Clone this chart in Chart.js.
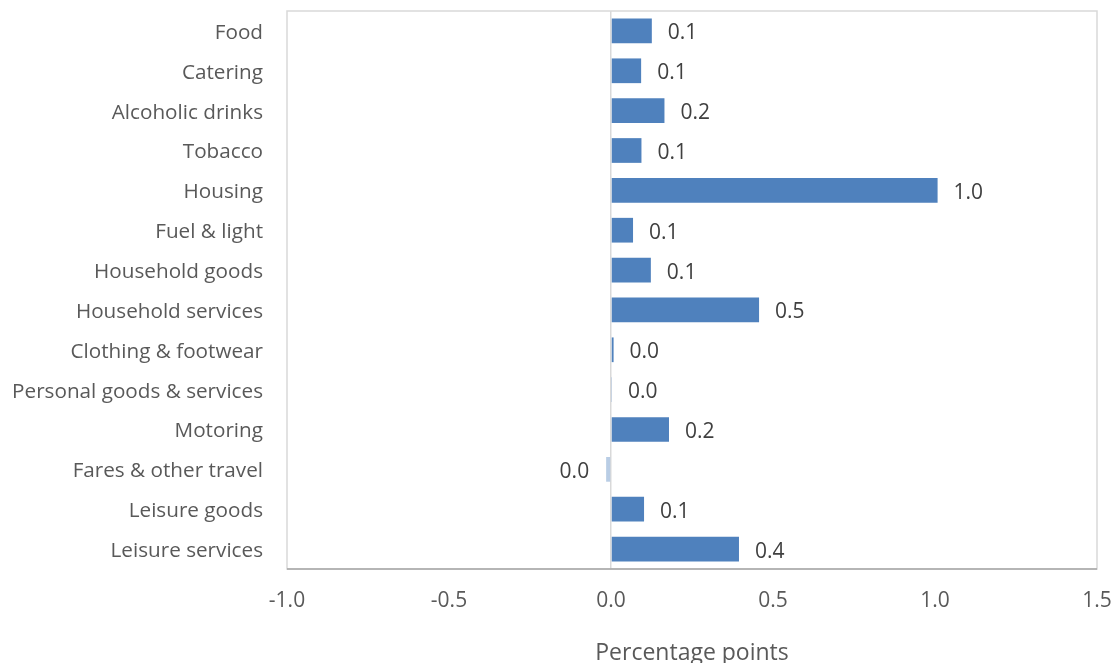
<!DOCTYPE html>
<html>
<head>
<meta charset="utf-8">
<script src="https://cdn.jsdelivr.net/npm/chart.js@4/dist/chart.umd.min.js"></script>
<style>
  html, body { margin: 0; padding: 0; background: #fff; }
  #wrap { width: 1112px; height: 663px; position: relative; }
</style>
</head>
<body>
<div id="wrap"><canvas id="chart"></canvas></div>
<script>
// contributions to the change in the index, percentage points
var categories = [
  "Food", "Catering", "Alcoholic drinks", "Tobacco", "Housing",
  "Fuel & light", "Household goods", "Household services",
  "Clothing & footwear", "Personal goods & services", "Motoring",
  "Fares & other travel", "Leisure goods", "Leisure services"
]
var contributions = [
  0.126, 0.093, 0.165, 0.094, 1.008,
  0.068, 0.123, 0.457,
  0.008, 0.003, 0.179,
  -0.015, 0.102, 0.395
]
var xMin = -1.0
var xMax = 1.5
var xStep = 0.5

var FONT = "'Open Sans', 'DejaVu Sans', sans-serif"

function fmt(v) {
  // round to one decimal, and drop the sign of a negative zero
  return (Math.round(v * 10) / 10 + 0).toFixed(1)
}

// box round the plot area, darker line along the value axis
const plotFrame = {
  id: 'plotFrame',
  beforeDatasetsDraw(chart) {
    const {ctx, chartArea: a} = chart
    ctx.save()
    ctx.strokeStyle = '#D9D9D9'
    ctx.lineWidth = 1.5
    ctx.strokeRect(a.left, a.top, a.right - a.left, a.bottom - a.top)
    ctx.strokeStyle = '#A6A6A6'
    ctx.beginPath()
    ctx.moveTo(a.left, a.bottom)
    ctx.lineTo(a.right, a.bottom)
    ctx.stroke()
    ctx.restore()
  }
}

// value labels just past the end of each bar
const barLabels = {
  id: 'barLabels',
  afterDatasetsDraw(chart) {
    const ctx = chart.ctx
    const meta = chart.getDatasetMeta(0)
    const values = chart.data.datasets[0].data
    ctx.save()
    ctx.font = '21px ' + FONT
    ctx.fillStyle = '#404040'
    ctx.textBaseline = 'middle'
    meta.data.forEach((bar, i) => {
      const v = values[i]
      if (v < 0) {
        ctx.textAlign = 'right'
        ctx.fillText(fmt(v), Math.min(bar.x, bar.base) - 17, bar.y + 2.5)
      } else {
        ctx.textAlign = 'left'
        ctx.fillText(fmt(v), Math.max(bar.x, bar.base) + 16, bar.y + 2.5)
      }
    })
    ctx.restore()
  }
}

new Chart(document.getElementById('chart'), {
  type: 'bar',
  data: {
    labels: categories,
    datasets: [{
      data: contributions,
      backgroundColor: contributions.map(v => v < 0 ? '#B9CDE5' : '#4F81BD'),
      borderWidth: 0,
      barPercentage: 0.62,
      categoryPercentage: 1.0
    }]
  },
  options: {
    indexAxis: 'y',
    responsive: true,
    maintainAspectRatio: false,
    animation: false,
    layout: {
      padding: {top: 11, right: 15, bottom: 0, left: 0}
    },
    plugins: {
      legend: {display: false},
      tooltip: {enabled: false}
    },
    scales: {
      x: {
        min: xMin,
        max: xMax,
        afterFit: (s) => {
          s.height = 94
          s.paddingLeft = 0
          s.paddingRight = 0
        },
        ticks: {
          stepSize: xStep,
          callback: (v) => Number(v).toFixed(1),
          color: '#595959',
          font: {family: FONT, size: 21},
          padding: 19,
          maxRotation: 0
        },
        grid: {
          drawTicks: false,
          color: (c) => (c.tick && c.tick.value === 0) ? '#D9D9D9' : 'rgba(0,0,0,0)',
          lineWidth: 1.5
        },
        border: {display: false},
        title: {
          display: true,
          text: 'Percentage points',
          color: '#595959',
          font: {family: FONT, size: 23, lineHeight: 0.85},
          padding: 0
        }
      },
      y: {
        afterFit: (s) => {
          s.width = 287
          s.paddingTop = 0
          s.paddingBottom = 0
        },
        ticks: {
          color: '#595959',
          font: {family: FONT, size: 20.7},
          padding: 24,
          labelOffset: 2
        },
        grid: {display: false, drawTicks: false},
        border: {display: false}
      }
    }
  },
  plugins: [plotFrame, barLabels]
})
</script>
</body>
</html>
